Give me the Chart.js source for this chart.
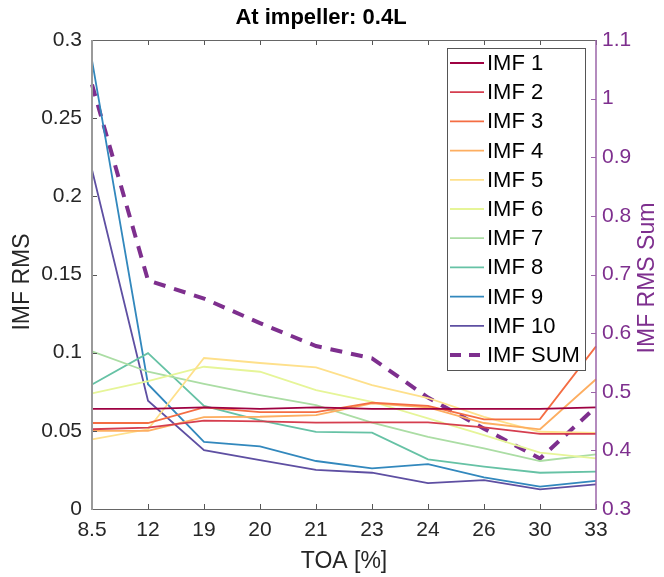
<!DOCTYPE html>
<html>
<head>
<meta charset="utf-8">
<script src="https://cdn.jsdelivr.net/npm/chart.js@4.4.0/dist/chart.umd.min.js"></script>
<style>
  body { margin: 0; background: #fff; }
  #wrap { width: 664px; height: 577px; }
</style>
</head>
<body>
<div id="wrap"><canvas id="chart" width="664" height="577"></canvas></div>
<script>
// TOA categories (x axis)
const toaLabels = ['8.5', '12', '19', '20', '21', '23', '24', '26', '30', '33'];

// IMF RMS values (left axis)
const imf1 = [0.064, 0.064, 0.065, 0.064, 0.065, 0.064, 0.064, 0.064, 0.064, 0.065];
const imf2 = [0.051, 0.052, 0.0565, 0.056, 0.0553, 0.0554, 0.0554, 0.0522, 0.048, 0.048];
const imf3 = [0.055, 0.055, 0.065, 0.062, 0.062, 0.068, 0.066, 0.0573, 0.0575, 0.104];
const imf4 = [0.050, 0.050, 0.0588, 0.059, 0.060, 0.0676, 0.065, 0.055, 0.051, 0.083];
const imf5 = [0.0445, 0.051, 0.0966, 0.0934, 0.0906, 0.0793, 0.071, 0.059, 0.0494, 0.0486];
const imf6 = [0.074, 0.0818, 0.091, 0.0878, 0.076, 0.0686, 0.058, 0.0473, 0.036, 0.0324];
const imf7 = [0.1008, 0.0878, 0.080, 0.0729, 0.0665, 0.0552, 0.0462, 0.0388, 0.0307, 0.035];
const imf8 = [0.0796, 0.0997, 0.0659, 0.0567, 0.0493, 0.0488, 0.0318, 0.0271, 0.0232, 0.0239];
const imf9 = [0.287, 0.0798, 0.043, 0.040, 0.0307, 0.026, 0.0287, 0.0203, 0.0143, 0.018];
const imf10 = [0.217, 0.0693, 0.0377, 0.0312, 0.025, 0.0232, 0.0166, 0.0185, 0.0126, 0.0158];

// sum of the IMF RMS (right axis)
const imfSum = [1.024, 0.690, 0.659, 0.617, 0.578, 0.557, 0.490, 0.437, 0.386, 0.474];

const FONT = '"Liberation Sans", Arial, Helvetica, sans-serif';
const PURPLE = '#7E2F8E';
const colors = ['#9E0142', '#D53E4F', '#F46D43', '#FDAE61', '#FEE08B',
                '#E6F598', '#ABDDA4', '#66C2A5', '#3288BD', '#5E4FA2'];
const imfSeries = [imf1, imf2, imf3, imf4, imf5, imf6, imf7, imf8, imf9, imf10];

const datasets = imfSeries.map((vals, i) => ({
    label: 'IMF ' + (i + 1),
    data: vals,
    borderColor: colors[i],
    borderWidth: 1.8,
    pointRadius: 0,
    tension: 0,
    yAxisID: 'y'
}));
datasets.push({
    label: 'IMF SUM',
    data: imfSum,
    borderColor: PURPLE,
    borderWidth: 4,
    borderDash: [12, 9],
    pointRadius: 0,
    tension: 0,
    yAxisID: 'y1'
});

function fmt(v) {
    return String(+(+v).toFixed(3));
}

// box, inward ticks, titles and legend, drawn like the matlab figure
const matlabLook = {
    id: 'matlabLook',
    afterDatasetsDraw(chart) {
        const ctx = chart.ctx;
        const a = chart.chartArea;
        const x = chart.scales.x, y = chart.scales.y, y1 = chart.scales.y1;
        ctx.save();

        // ticks
        ctx.lineWidth = 1;
        ctx.strokeStyle = '#555';
        x.ticks.forEach((t, i) => {
            const px = Math.round(x.getPixelForTick(i)) + 0.5;
            ctx.beginPath();
            ctx.moveTo(px, a.bottom); ctx.lineTo(px, a.bottom - 5);
            ctx.moveTo(px, a.top); ctx.lineTo(px, a.top + 5);
            ctx.stroke();
        });
        y.ticks.forEach(t => {
            const py = Math.round(y.getPixelForValue(t.value)) + 0.5;
            ctx.beginPath();
            ctx.moveTo(a.left, py); ctx.lineTo(a.left + 5, py);
            ctx.stroke();
        });
        ctx.strokeStyle = '#9b64a8';
        y1.ticks.forEach(t => {
            const py = Math.round(y1.getPixelForValue(t.value)) + 0.5;
            ctx.beginPath();
            ctx.moveTo(a.right, py); ctx.lineTo(a.right - 5, py);
            ctx.stroke();
        });

        // box
        ctx.strokeStyle = '#666';
        ctx.beginPath();
        ctx.moveTo(a.left, a.top + 0.5); ctx.lineTo(a.right, a.top + 0.5);
        ctx.moveTo(a.left, a.bottom + 0.5); ctx.lineTo(a.right, a.bottom + 0.5);
        ctx.stroke();
        ctx.strokeStyle = '#9a9a9a';
        ctx.lineWidth = 2;
        ctx.beginPath();
        ctx.moveTo(a.left, a.top); ctx.lineTo(a.left, a.bottom + 1);
        ctx.stroke();
        ctx.strokeStyle = '#9b64a8';
        ctx.lineWidth = 1.5;
        ctx.beginPath();
        ctx.moveTo(a.right, a.top); ctx.lineTo(a.right, a.bottom + 1);
        ctx.stroke();

        // legend
        const lx = 447, ly = 48, lw = 138, lh = 322;
        ctx.fillStyle = '#fff';
        ctx.fillRect(lx, ly, lw, lh);
        ctx.strokeStyle = '#555';
        ctx.lineWidth = 1;
        ctx.strokeRect(lx + 0.5, ly + 0.5, lw, lh);
        ctx.font = '22px ' + FONT;
        ctx.textAlign = 'left';
        ctx.textBaseline = 'middle';
        chart.data.datasets.forEach((ds, i) => {
            const cy = 63 + i * 29.2;
            ctx.strokeStyle = ds.borderColor;
            ctx.lineWidth = ds.borderWidth;
            ctx.setLineDash(ds.borderDash ? [11, 8] : []);
            ctx.beginPath();
            ctx.moveTo(lx + 3, cy); ctx.lineTo(lx + 37, cy);
            ctx.stroke();
            ctx.setLineDash([]);
            ctx.fillStyle = '#000';
            ctx.fillText(ds.label, lx + 40, cy + 1);
        });

        // titles
        ctx.fillStyle = '#000';
        ctx.font = 'bold 22px ' + FONT;
        ctx.textAlign = 'center';
        ctx.fillText('At impeller: 0.4L', 321, 18);

        ctx.font = '23px ' + FONT;
        ctx.fillStyle = '#262626';
        ctx.fillText('TOA [%]', (a.left + a.right) / 2, 562);

        ctx.save();
        ctx.translate(23, 282);
        ctx.rotate(-Math.PI / 2);
        ctx.fillText('IMF RMS', 0, 0);
        ctx.restore();

        ctx.save();
        ctx.translate(648, 278);
        ctx.rotate(-Math.PI / 2);
        ctx.fillStyle = PURPLE;
        ctx.fillText('IMF RMS Sum', 0, 0);
        ctx.restore();

        ctx.restore();
    }
};

const chart = new Chart(document.getElementById('chart'), {
    type: 'line',
    data: { labels: toaLabels, datasets: datasets },
    options: {
        responsive: false,
        animation: false,
        layout: { padding: { top: 40, left: 0, right: 0, bottom: 0 } },
        plugins: {
            legend: { display: false },
            title: { display: false },
            tooltip: { enabled: false }
        },
        scales: {
            x: {
                type: 'category',
                offset: false,
                grid: { display: false, drawTicks: false },
                border: { display: false },
                ticks: {
                    autoSkip: false,
                    maxRotation: 0,
                    padding: 9,
                    color: '#262626',
                    font: { family: FONT, size: 21 }
                },
                afterFit: s => { s.height = 68; }
            },
            y: {
                position: 'left',
                min: 0,
                max: 0.3,
                grid: { display: false, drawTicks: false },
                border: { display: false },
                ticks: {
                    stepSize: 0.05,
                    padding: 10,
                    color: '#262626',
                    font: { family: FONT, size: 21 },
                    callback: v => fmt(v)
                },
                afterFit: s => { s.width = 92; }
            },
            y1: {
                position: 'right',
                min: 0.3,
                max: 1.1,
                grid: { display: false, drawTicks: false },
                border: { display: false },
                ticks: {
                    stepSize: 0.1,
                    padding: 6,
                    color: PURPLE,
                    font: { family: FONT, size: 21 },
                    callback: v => fmt(v)
                },
                afterFit: s => { s.width = 68; }
            }
        }
    },
    plugins: [matlabLook]
});
</script>
</body>
</html>
